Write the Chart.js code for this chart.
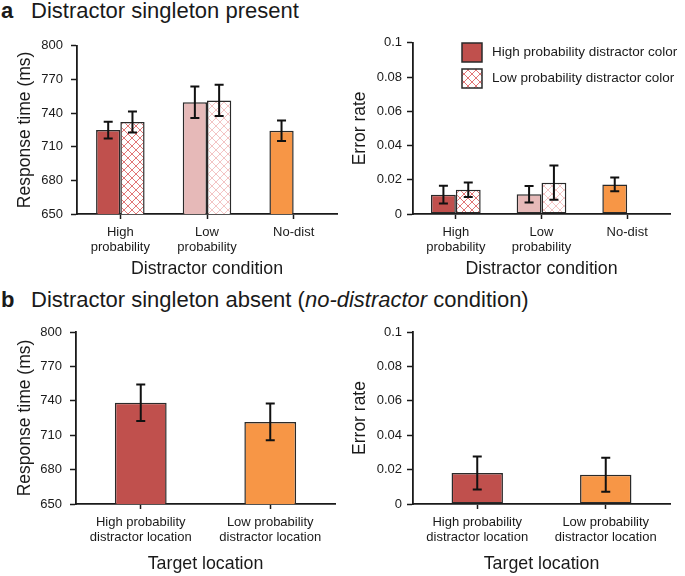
<!DOCTYPE html>
<html>
<head>
<meta charset="utf-8">
<script src="https://cdn.jsdelivr.net/npm/chart.js@4.4.1/dist/chart.umd.min.js"></script>
<style>
  body { margin: 0; background: #fff; width: 685px; height: 576px; position: relative; overflow: hidden;
         font-family: "Liberation Sans", Arial, sans-serif; color: #1a1a1a; }
  .hd { position: absolute; left: 1px; font-size: 22px; line-height: 24px; white-space: nowrap; }
  .hd b { display: inline-block; width: 30px; }
  canvas { position: absolute; }
</style>
</head>
<body>
<div class="hd" style="top:-1px"><b>a</b>Distractor singleton present</div>
<div class="hd" style="top:288px"><b>b</b>Distractor singleton absent (<i>no-distractor</i> condition)</div>
<canvas id="c1" width="340" height="260" style="left:0;top:30px"></canvas>
<canvas id="c2" width="345" height="260" style="left:340px;top:30px"></canvas>
<canvas id="c3" width="340" height="264" style="left:0;top:312px"></canvas>
<canvas id="c4" width="345" height="264" style="left:340px;top:312px"></canvas>
<script>
// tick values
const rtTicks = [650, 680, 710, 740, 770, 800];
const errTicks = [0, 0.02, 0.04, 0.06, 0.08, 0.1];

// a: distractor present (No-dist sits in the first slot of its group)
const presentCats = [['High', 'probability'], ['Low', 'probability'], 'No-dist'];
const seriesNames = ['High probability distractor color', 'Low probability distractor color'];
const rtPresentHigh = [724.8, 749.7, 724.2];
const rtPresentHighErr = [7.4, 14, 9.2];
const rtPresentLow = [732.1, 751.3, null];
const rtPresentLowErr = [9.4, 14, null];
const errPresentHigh = [0.0113, 0.0115, 0.0173];
const errPresentHighErr = [0.0052, 0.0048, 0.004];
const errPresentLow = [0.0142, 0.0183, null];
const errPresentLowErr = [0.0042, 0.0100, null];

// b: distractor absent
const absentCats = [['High probability', 'distractor location'], ['Low probability', 'distractor location']];
const rtAbsent = [738.3, 721.6];
const rtAbsentErr = [16, 16];
const errAbsent = [0.018, 0.017];
const errAbsentErr = [0.0096, 0.0099];

const RED = '#c0504d', PINK = '#e6b9b8', ORANGE = '#f79646';
const AXIS = '#1a1a1a', TXT = '#1a1a1a', EDGE = '#2a2a2a';
const FONT = '"Liberation Sans", Arial, sans-serif';

function hatch(color) {
  const c = document.createElement('canvas');
  c.width = 8; c.height = 8;
  const g = c.getContext('2d');
  g.fillStyle = '#fff';
  g.fillRect(0, 0, 8, 8);
  g.strokeStyle = color;
  g.lineWidth = 1;
  g.beginPath();
  g.moveTo(-1, -1); g.lineTo(9, 9);
  g.moveTo(-1, 9); g.lineTo(9, -1);
  g.stroke();
  return g.createPattern(c, 'repeat');
}
const hatchHigh = hatch('#e27676');
const hatchLow = hatch('#f3c4c4');

const errorBars = {
  id: 'errorBars',
  afterDatasetsDraw(chart) {
    const ctx = chart.ctx, y = chart.scales.y;
    chart.data.datasets.forEach((ds, i) => {
      if (!ds.errors) return;
      chart.getDatasetMeta(i).data.forEach((bar, j) => {
        const v = ds.data[j], e = ds.errors[j];
        if (v == null || e == null) return;
        const top = y.getPixelForValue(v + e), bot = y.getPixelForValue(v - e);
        ctx.save();
        ctx.strokeStyle = '#111';
        ctx.lineWidth = 2;
        ctx.beginPath();
        ctx.moveTo(bar.x, top); ctx.lineTo(bar.x, bot);
        ctx.moveTo(bar.x - 4.5, top); ctx.lineTo(bar.x + 4.5, top);
        ctx.moveTo(bar.x - 4.5, bot); ctx.lineTo(bar.x + 4.5, bot);
        ctx.stroke();
        ctx.restore();
      });
    });
  }
};

// legend drawn inside the error-rate panel
const boxLegend = {
  id: 'boxLegend',
  afterDraw(chart) {
    const ctx = chart.ctx;
    const fills = [RED, hatchHigh];
    ctx.save();
    ctx.font = '13.5px ' + FONT;
    ctx.textBaseline = 'middle';
    seriesNames.forEach((name, i) => {
      const y = 13 + i * 26;
      ctx.fillStyle = fills[i];
      ctx.fillRect(122, y, 20, 19);
      ctx.strokeStyle = EDGE;
      ctx.lineWidth = 1.5;
      ctx.strokeRect(122, y, 20, 19);
      ctx.fillStyle = TXT;
      ctx.fillText(name, 152, y + 9.5);
    });
    ctx.restore();
  }
};

function yScale(ticks, w, text, titlePad, tickPad) {
  return {
    min: ticks[0], max: ticks[ticks.length - 1],
    afterBuildTicks: s => { s.ticks = ticks.map(v => ({ value: v })); },
    afterFit: s => { s.width = w; },
    border: { color: AXIS, width: 1.8 },
    grid: { drawOnChartArea: false, tickLength: 6, tickColor: AXIS, tickWidth: 1.5 },
    ticks: { font: { size: 13, family: FONT }, color: TXT, padding: tickPad,
             callback: v => String(+v.toFixed(3)) },
    title: { display: true, text: text, color: TXT, font: { size: 17.5, family: FONT, lineHeight: 1.2 },
             padding: { top: titlePad, bottom: 0 } }
  };
}

function xScale(h, text, titlePad) {
  return {
    afterFit: s => { s.height = h; },
    border: { color: AXIS, width: 1.8 },
    grid: { drawOnChartArea: false, offset: false, tickLength: 5, tickColor: AXIS, tickWidth: 1.5 },
    ticks: { font: { size: 13, family: FONT, lineHeight: 1.22 }, color: TXT, padding: 5,
             maxRotation: 0, autoSkip: false },
    title: { display: true, text: text, color: TXT, font: { size: 17.8, family: FONT, lineHeight: 1.2 },
             padding: { top: 0, bottom: titlePad } }
  };
}

function barSet(label, data, errors, colors, catPct) {
  return { label, data, errors, backgroundColor: colors, borderColor: EDGE, borderWidth: 1.5,
           borderSkipped: false, barPercentage: 1, categoryPercentage: catPct };
}

function makeChart(id, labels, datasets, x, y, padding, extra) {
  return new Chart(document.getElementById(id), {
    type: 'bar',
    data: { labels, datasets },
    options: {
      responsive: false, animation: false, devicePixelRatio: 1,
      layout: { padding },
      plugins: { legend: { display: false }, tooltip: { enabled: false } },
      scales: { x, y }
    },
    plugins: [errorBars].concat(extra || [])
  });
}

makeChart('c1', presentCats, [
    barSet(seriesNames[0], rtPresentHigh, rtPresentHighErr, [RED, PINK, ORANGE], 0.56),
    barSet(seriesNames[1], rtPresentLow, rtPresentLowErr, [hatchHigh, hatchLow, '#fff'], 0.56)
  ],
  xScale(76, 'Distractor condition', 10.5),
  yScale(rtTicks, 77, 'Response time (ms)', 15, 8),
  { top: 11, right: 3, left: 0, bottom: 0 });

makeChart('c2', presentCats, [
    barSet(seriesNames[0], errPresentHigh, errPresentHighErr, [RED, PINK, ORANGE], 0.58),
    barSet(seriesNames[1], errPresentLow, errPresentLowErr, [hatchHigh, hatchLow, '#fff'], 0.58)
  ],
  xScale(76, 'Distractor condition', 10.5),
  yScale(errTicks, 73, 'Error rate', 9.5, 5),
  { top: 12, right: 15, left: 0, bottom: 0 }, [boxLegend]);

makeChart('c3', absentCats, [
    barSet('RT', rtAbsent, rtAbsentErr, [RED, ORANGE], 0.4)
  ],
  xScale(72, 'Target location', 1.5),
  yScale(rtTicks, 76, 'Response time (ms)', 15, 8),
  { top: 20, right: 5, left: 0, bottom: 0 });

makeChart('c4', absentCats, [
    barSet('Error', errAbsent, errAbsentErr, [RED, ORANGE], 0.4)
  ],
  xScale(72, 'Target location', 1.5),
  yScale(errTicks, 73, 'Error rate', 9.5, 5),
  { top: 20, right: 15, left: 0, bottom: 0 });
</script>
</body>
</html>
